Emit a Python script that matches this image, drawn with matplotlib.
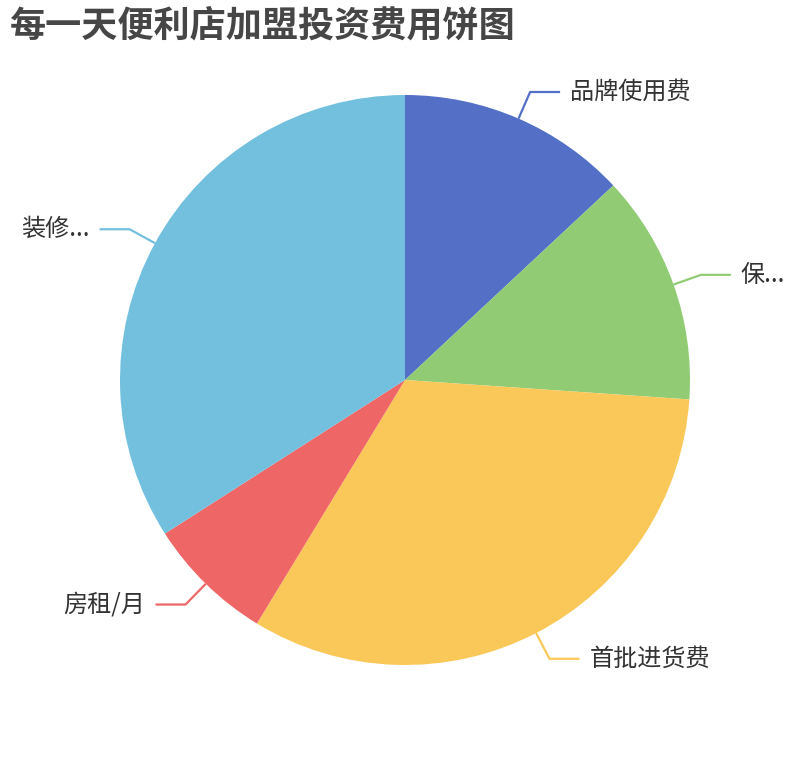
import numpy as np
import matplotlib
matplotlib.use('Agg')
import matplotlib.pyplot as plt

plt.rcParams['font.family'] = ['Noto Sans CJK SC', 'DejaVu Sans']

title = '每一天便利店加盟投资费用饼图'
names = ['品牌使用费', '保...', '首批进货费', '房租/月', '装修...']
values = [18000, 18000, 45000, 10000, 47000]
colors = ['#5470c6', '#91cc75', '#fac858', '#ee6666', '#73c0de']

W, H = 810, 760
cx, cy, R = 405, 380, 285

fig = plt.figure(figsize=(W / 100, H / 100), dpi=100)
ax = fig.add_axes([0, 0, 1, 1])

wedges, _ = ax.pie(values, colors=colors, startangle=90, counterclock=False,
                   center=(cx, H - cy), radius=R,
                   wedgeprops=dict(linewidth=0))
ax.set_xlim(0, W)
ax.set_ylim(0, H)
ax.set_aspect('equal')
ax.axis('off')

# label lines: radial piece then a horizontal piece, ECharts style
r_bend = 314
len2 = 30
gap = 10
for w, name, c in zip(wedges, names, colors):
    mid = np.deg2rad((w.theta1 + w.theta2) / 2)
    x0, y0 = cx + R * np.cos(mid), (H - cy) + R * np.sin(mid)
    x1, y1 = cx + r_bend * np.cos(mid), (H - cy) + r_bend * np.sin(mid)
    side = 1 if np.cos(mid) >= 0 else -1
    x2 = x1 + side * len2
    ax.plot([x0, x1, x2], [y0, y1, y1], color=c, lw=1.6, solid_capstyle='butt')
    ax.text(x2 + side * gap, y1, name, ha='left' if side > 0 else 'right',
            va='center', fontsize=17.4, color='#333333')

fig.text(10 / W, 1 - 26 / H, title, fontsize=26, fontweight='bold',
         color='#464646', ha='left', va='center')

fig.savefig('out.png', dpi=100)
